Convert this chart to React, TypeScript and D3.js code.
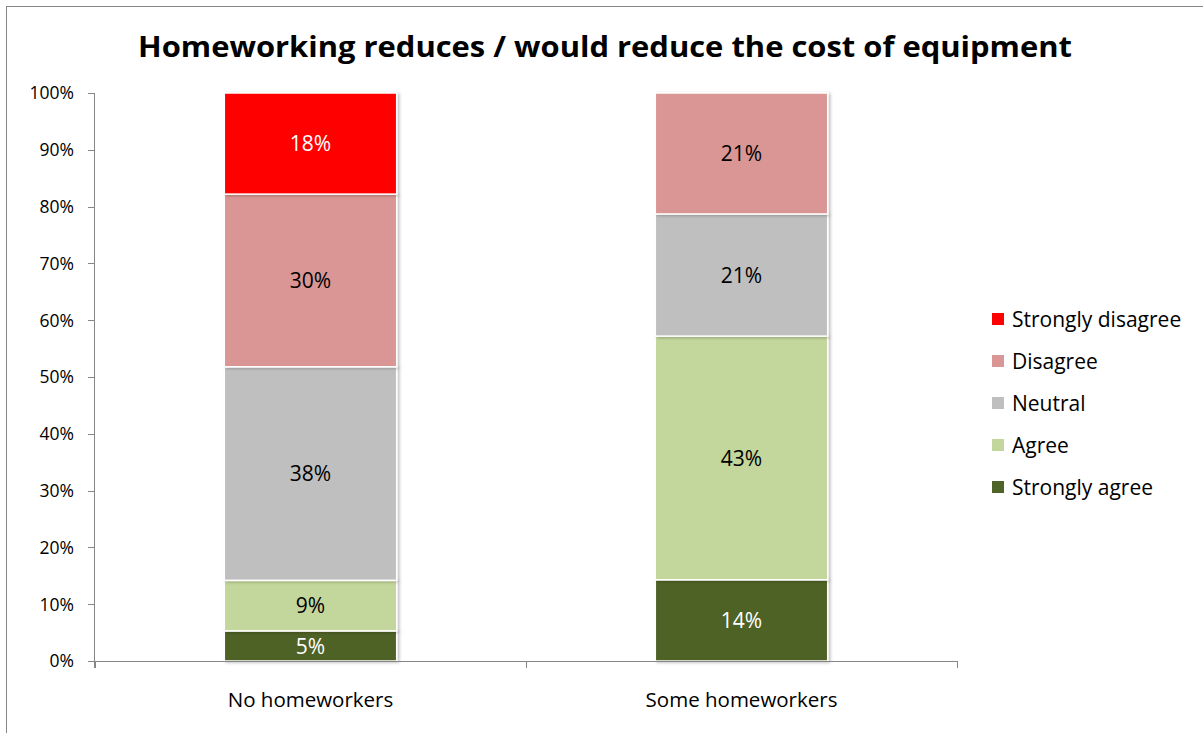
import React from "react";
import * as d3 from "d3";

const categories = ["No homeworkers", "Some homeworkers"];
const seriesNames = ["Strongly agree", "Agree", "Neutral", "Disagree", "Strongly disagree"];
const stronglyAgree = [0.053, 0.143];
const agree = [0.089, 0.429];
const neutral = [0.376, 0.215];
const disagree = [0.304, 0.213];
const stronglyDisagree = [0.178, 0];
const seriesColors = ["#4F6228", "#C3D69B", "#BFBFBF", "#D99694", "#FF0000"];
const labelColors = ["#ffffff", "#000000", "#000000", "#000000", "#ffffff"];
const yTicks = [0, 0.1, 0.2, 0.3, 0.4, 0.5, 0.6, 0.7, 0.8, 0.9, 1.0];
const title = "Homeworking reduces / would reduce the cost of equipment";

const FONT = "'Open Sans', Lato, sans-serif";

export default function App() {
  const W = 1203, H = 733;
  const left = 95, right = 957, top = 93, bottom = 661;
  const y = d3.scaleLinear().domain([0, 1]).range([bottom, top]);
  const x = d3.scaleBand<string>().domain(categories).range([left, right]).paddingInner(0.6).paddingOuter(0.3);
  const step = x.step();
  const seriesValues = [stronglyAgree, agree, neutral, disagree, stronglyDisagree];
  const table = categories.map((c, i) => {
    const row: any = { cat: c };
    seriesNames.forEach((s, j) => (row[s] = seriesValues[j][i]));
    return row;
  });
  const stacked = d3.stack<any>().keys(seriesNames)(table);
  const fmt = d3.format(".0%");
  const legendOrder = [...seriesNames].reverse();
  const axisColor = "#868686";

  return (
    <svg width={W} height={H} style={{ position: "absolute", left: 0, top: 0 }} fontFamily={FONT}>
      <rect x={0} y={0} width={W} height={H} fill="#fff" />
      <rect x={6.5} y={6.5} width={W + 10} height={H + 10} fill="none" stroke="#868686" strokeWidth={1} />
      <text x={605} y={57} textAnchor="middle" fontSize={29} fontWeight="bold" fill="#000" textLength={934} lengthAdjust="spacingAndGlyphs">{title}</text>

      <defs>
        <filter id="sh" x="-10%" y="-10%" width="125%" height="125%">
          <feDropShadow dx={2} dy={1} stdDeviation={1.5} floodColor="#000" floodOpacity={0.25} />
        </filter>
      </defs>

      {stacked.map((layer, j) => (
        <g key={layer.key}>
          {layer.map((d, i) => {
            const v = d[1] - d[0];
            if (v <= 0) return null;
            const bx = x(categories[i])!;
            const y0 = y(d[1]), y1 = y(d[0]);
            return (
              <g key={i}>
                <rect x={bx} y={y0} width={x.bandwidth()} height={y1 - y0} fill={seriesColors[j]} stroke="#fff" strokeWidth={1.5} filter="url(#sh)" />
                <text x={bx + x.bandwidth() / 2} y={(y0 + y1) / 2} dy="0.36em" textAnchor="middle" fontSize={21} fill={labelColors[j]}>{fmt(v)}</text>
              </g>
            );
          })}
        </g>
      ))}

      {/* y axis */}
      <line x1={left - 0.5} x2={left - 0.5} y1={top} y2={bottom + 7} stroke={axisColor} />
      {yTicks.map((t) => (
        <g key={t}>
          <line x1={left - 7} x2={left} y1={Math.round(y(t)) + 0.5} y2={Math.round(y(t)) + 0.5} stroke={axisColor} />
          <text x={74} y={y(t)} dy="0.36em" textAnchor="end" fontSize={17.5} fill="#000">{fmt(t)}</text>
        </g>
      ))}
      {/* x axis */}
      <line x1={left} x2={right} y1={bottom + 0.5} y2={bottom + 0.5} stroke={axisColor} />
      {[0, 1, 2].map((k) => (
        <line key={k} x1={left + k * step + 0.5} x2={left + k * step + 0.5} y1={bottom} y2={bottom + 7} stroke={axisColor} />
      ))}
      {categories.map((c) => (
        <text key={c} x={x(c)! + x.bandwidth() / 2} y={700} dy="0.36em" textAnchor="middle" fontSize={20.5} fill="#000">{c}</text>
      ))}

      {/* legend */}
      {legendOrder.map((s, k) => {
        const j = seriesNames.indexOf(s);
        const cy = 319 + k * 42;
        return (
          <g key={s}>
            <rect x={992} y={cy - 6} width={12} height={12} fill={seriesColors[j]} />
            <text x={1012} y={cy} dy="0.36em" fontSize={21} fill="#000">{s}</text>
          </g>
        );
      })}
    </svg>
  );
}
